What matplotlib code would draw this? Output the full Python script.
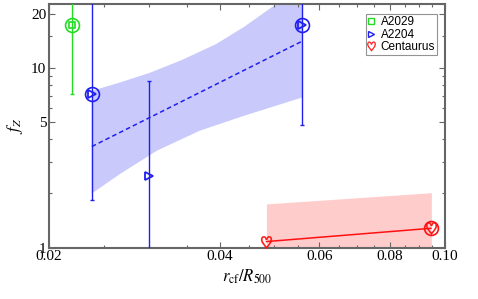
import numpy as np
import matplotlib.pyplot as plt
from matplotlib.ticker import FixedLocator, NullFormatter

plt.rcParams["font.family"] = "Liberation Serif"
plt.rcParams["mathtext.fontset"] = "stix"

GREEN, BLUE, RED = "#22dd22", "#1f1fef", "#ff1010"

# A2029
a2029_x = [0.0220]
a2029_y = [17.3]
a2029_lo = [7.2]
a2029_hi = [30.0]

# A2204
a2204_x = [0.0238, 0.0300, 0.0560]
a2204_y = [7.14, 2.49, 17.3]
a2204_lo = [1.84, 0.8, 4.82]
a2204_hi = [30.0, 8.47, 30.0]
a2204_circled = [True, False, True]

# A2204 fit and band
fit_x = [0.0238, 0.0560]
fit_y = [3.65, 14.1]
band_up_x = [0.0238, 0.0267, 0.0301, 0.0344, 0.0395, 0.0443, 0.0504, 0.0560]
band_up_y = [7.45, 8.3, 9.38, 11.1, 13.6, 17.0, 22.7, 29.2]
band_lo_x = [0.0238, 0.0267, 0.0310, 0.0369, 0.0443, 0.0560]
band_lo_y = [2.0, 2.57, 3.46, 4.47, 5.43, 6.85]

# Centaurus
cen_x = [0.0484, 0.0944]
cen_y = [1.08, 1.28]
cen_band_x = [0.0484, 0.0946]
cen_band_top = [1.75, 2.02]
cen_circled = [False, True]

fig = plt.figure(figsize=(4.78, 2.99), dpi=100)
ax = fig.add_axes([0.1025, 0.172, 0.8285, 0.816])
ax.set_xscale("log")
ax.set_yscale("log")

# bands
xs = np.array(band_up_x + band_lo_x[::-1])
ys = np.array(band_up_y + band_lo_y[::-1])
ax.fill(xs, ys, color="#c9c9fb", lw=0, zorder=1)
ax.fill_between(cen_band_x, [0.5, 0.5], cen_band_top, color="#ffcccc", lw=0, zorder=1)

# fit lines
ax.plot(fit_x, fit_y, "--", color=BLUE, lw=1.1, dashes=(3, 2), zorder=2)
ax.plot(cen_x, cen_y, "-", color=RED, lw=1.1, zorder=2)

# error bars
def errbars(x, y, lo, hi, color):
    y = np.array(y)
    ax.errorbar(x, y, yerr=[y - np.array(lo), np.array(hi) - y], fmt="none",
                ecolor=color, elinewidth=1.0, capsize=1.2, capthick=1.0, zorder=3)

errbars(a2029_x, a2029_y, a2029_lo, a2029_hi, GREEN)
errbars(a2204_x, a2204_y, a2204_lo, a2204_hi, BLUE)

# markers
ax.plot(a2029_x, a2029_y, "s", ms=5, mfc="none", mec=GREEN, mew=1.2, zorder=4)
ax.plot(a2029_x, a2029_y, "o", ms=10, mfc="none", mec=GREEN, mew=1.2, zorder=4)
ax.plot(a2204_x, a2204_y, ">", ms=6, mfc="none", mec=BLUE, mew=1.3, zorder=4)
cx = [x for x, c in zip(a2204_x, a2204_circled) if c]
cy = [y for y, c in zip(a2204_y, a2204_circled) if c]
ax.plot(cx, cy, "o", ms=10, mfc="none", mec=BLUE, mew=1.2, zorder=4)
ax.plot(cen_x, cen_y, marker=r"$\heartsuit$", ls="none", ms=9, color=RED, mew=0.3, zorder=4)
cx = [x for x, c in zip(cen_x, cen_circled) if c]
cy = [y for y, c in zip(cen_y, cen_circled) if c]
ax.plot(cx, cy, "o", ms=10, mfc="none", mec=RED, mew=1.2, zorder=4)

# legend handles
h1, = ax.plot([], [], "s", ms=4, mfc="none", mec=GREEN, mew=1.0, label="A2029")
h2, = ax.plot([], [], ">", ms=4, mfc="none", mec=BLUE, mew=1.0, label="A2204")
h3, = ax.plot([], [], marker=r"$\heartsuit$", ls="none", ms=7, color=RED, mew=0.2,
              label="Centaurus")
leg = ax.legend(handles=[h1, h2, h3], loc="upper right", bbox_to_anchor=(0.985, 0.965),
                prop={"family": "Liberation Sans", "size": 8.5}, fancybox=False,
                handlelength=0.6, handletextpad=0.5, borderpad=0.15, labelspacing=0.05,
                borderaxespad=0.2)
leg.get_frame().set_edgecolor("#777777")
leg.get_frame().set_linewidth(0.8)

ax.set_xlim(0.02, 0.1)
ax.set_ylim(1, 22.8)
ax.xaxis.set_major_locator(FixedLocator([0.02, 0.04, 0.06, 0.08, 0.10]))
ax.xaxis.set_minor_locator(FixedLocator(np.arange(0.025, 0.1, 0.005)))
ax.set_xticklabels(["0.02", "0.04", "0.06", "0.08", "0.10"])
ax.xaxis.set_minor_formatter(NullFormatter())
ax.yaxis.set_major_locator(FixedLocator([1, 5, 10, 20]))
ax.yaxis.set_minor_locator(FixedLocator([2, 3, 4, 6, 7, 8, 9, 15]))
ax.set_yticklabels(["1", "5", "10", "20"])
ax.yaxis.set_minor_formatter(NullFormatter())

for s in ax.spines.values():
    s.set_color("#666666")
    s.set_linewidth(1.5)
ax.tick_params(which="both", direction="in", top=True, right=True, colors="#666666",
               labelcolor="black", labelsize=11)
ax.tick_params(which="major", length=4, width=0.8, pad=2)
ax.tick_params(which="minor", length=2.5, width=0.8)

ax.set_xlabel(r"$r_{\rm cf}/R_{500}$", fontsize=12, labelpad=3)
ax.set_ylabel(r"$f_Z$", fontsize=12, labelpad=4)

fig.savefig("out.png", dpi=100)
